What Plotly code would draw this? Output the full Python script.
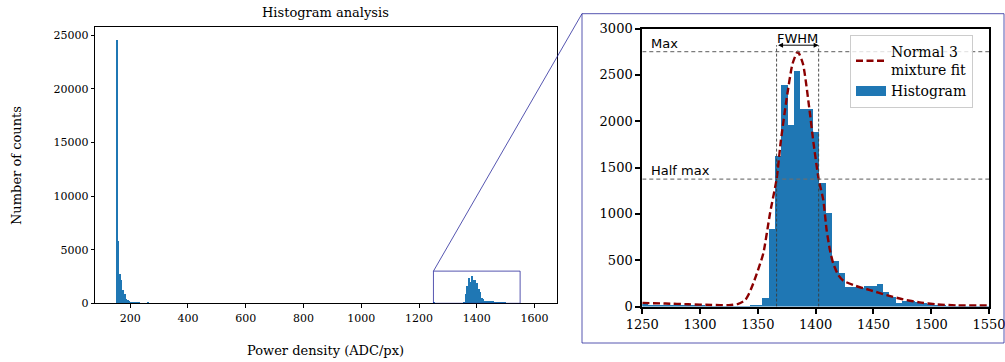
import plotly.graph_objects as go

# ---------------- data ----------------
bin_start = 150.7
bin_width = 5.495

# counts of the low-power cluster, bins 0..20
low_counts = [24520, 5830, 2700, 2170, 1240, 870, 400, 310, 210, 120,
              80, 60, 40, 30, 150, 20, 15, 10, 10, 10, 80]

# counts of the high-power cluster, bins 200..255
high_first_bin = 200
high_counts = [30, 28, 26, 25, 24, 22, 21, 20, 19, 18,
               17, 16, 15, 15, 14, 14, 15, 20, 28, 97,
               840, 1634, 2397, 1965, 2544, 2138, 2138, 1893, 1336, 1020,
               494, 372, 221, 221, 203, 232, 228, 250, 160, 113,
               41, 70, 63, 52, 41, 34, 27, 20, 15, 12,
               10, 8, 6, 5, 4, 3]

# normal 3 mixture fit
fit_x = [1250, 1270, 1290, 1310, 1325, 1333, 1339, 1342, 1346, 1350, 1354.7,
         1360.5, 1366.2, 1370, 1375, 1380, 1384.5, 1389, 1394.5, 1398,
         1402.6, 1406.6, 1409.5, 1412.4, 1415.2, 1419.6, 1424, 1432.6,
         1447, 1461.4, 1475.8, 1490, 1505, 1522, 1550]
fit_y = [40, 33, 25, 18, 16, 30, 70, 130, 250, 390, 574,
         1005, 1375, 1800, 2250, 2620, 2750, 2620, 2140, 1780,
         1375, 1150, 825, 609, 466, 340, 279, 232,
         178, 124, 78, 45, 24, 13, 12]

max_value = 2750
half_max_value = 1375
fwhm_left = 1366.2
fwhm_right = 1402.6

left_xticks = [200, 400, 600, 800, 1000, 1200, 1400, 1600]
left_yticks = [0, 5000, 10000, 15000, 20000, 25000]
right_xticks = [1250, 1300, 1350, 1400, 1450, 1500, 1550]
right_yticks = [0, 500, 1000, 1500, 2000, 2500, 3000]

zoom_x = [1250, 1550]
zoom_y = [0, 3000]

# ---------------- derived bins ----------------
low_centers = [bin_start + (k + 0.5) * bin_width for k in range(len(low_counts))]
high_centers = [bin_start + (high_first_bin + k + 0.5) * bin_width for k in range(len(high_counts))]
all_centers = low_centers + high_centers
all_counts = low_counts + high_counts

SERIF = "DejaVu Serif"
SANS = "DejaVu Sans"
BLUE = "#1f77b4"
BOX = "rgba(30,30,150,0.75)"

W, H = 1005, 362
L_dom_x = [94.9 / W, 556.8 / W]
L_dom_y = [(H - 303.3) / H, (H - 27) / H]
R_dom_x = [642.3 / W, 989 / W]
R_dom_y = [(H - 306.6) / H, (H - 28.5) / H]
L_range_x = [78, 1677]
L_range_y = [0, 25750]

fig = go.Figure()
fig.add_trace(go.Bar(x=all_centers, y=all_counts, width=bin_width,
                     marker=dict(color=BLUE, line=dict(width=0)),
                     xaxis="x", yaxis="y", showlegend=False, name="Histogram"))
fig.add_trace(go.Bar(x=high_centers, y=high_counts, width=bin_width,
                     marker=dict(color=BLUE, line=dict(width=0)),
                     xaxis="x2", yaxis="y2", name="Histogram", showlegend=False))
fig.add_trace(go.Scatter(x=fit_x, y=fit_y, mode="lines",
                         line=dict(color="#8b0000", width=2.4, dash="7px,3.5px", shape="spline", smoothing=0.6),
                         xaxis="x2", yaxis="y2", name="Normal 3<br>mixture fit", legendrank=1))
# legend-only entry drawn as a wide patch, like matplotlib's histogram handle
fig.add_trace(go.Scatter(x=[None], y=[None], mode="lines",
                         line=dict(color=BLUE, width=10),
                         xaxis="x2", yaxis="y2", name="Histogram", legendrank=2))

axis_common = dict(showline=True, mirror=True, linecolor="black", ticks="outside",
                   tickcolor="black", showgrid=False, zeroline=False, automargin=False,
                   ticklabeloverflow="allow")

def labels(vals):
    return [str(v) for v in vals]

fig.update_layout(
    width=W, height=H, margin=dict(l=0, r=0, t=0, b=0),
    paper_bgcolor="white", plot_bgcolor="white", bargap=0,
    xaxis=dict(domain=L_dom_x, range=L_range_x, anchor="y", tickvals=left_xticks, ticktext=labels(left_xticks),
               linewidth=1.3, tickwidth=1.3, ticklen=4,
               tickfont=dict(family=SERIF, size=11, color="black"), **axis_common),
    yaxis=dict(domain=L_dom_y, range=L_range_y, anchor="x", tickvals=left_yticks, ticktext=labels(left_yticks),
               linewidth=1.3, tickwidth=1.3, ticklen=3,
               tickfont=dict(family=SERIF, size=11, color="black"), **axis_common),
    xaxis2=dict(domain=R_dom_x, range=zoom_x, anchor="y2", tickvals=right_xticks, ticktext=labels(right_xticks),
                linewidth=2, tickwidth=1.6, ticklen=5,
                tickfont=dict(family=SERIF, size=13, color="black"), **axis_common),
    yaxis2=dict(domain=R_dom_y, range=zoom_y, anchor="x2", tickvals=right_yticks, ticktext=labels(right_yticks),
                linewidth=2, tickwidth=1.6, ticklen=5,
                tickfont=dict(family=SERIF, size=13, color="black"), **axis_common),
    legend=dict(x=850 / W, y=(H - 35) / H, xanchor="left", yanchor="top",
                bgcolor="rgba(255,255,255,0.8)", bordercolor="#cccccc", borderwidth=1,
                font=dict(family=SERIF, size=14, color="black"), tracegroupgap=0,
                itemwidth=30),
)

# left -> paper mapping for the connector line
def left_to_paper(xv, yv):
    px = L_dom_x[0] + (xv - L_range_x[0]) / (L_range_x[1] - L_range_x[0]) * (L_dom_x[1] - L_dom_x[0])
    py = L_dom_y[0] + (yv - L_range_y[0]) / (L_range_y[1] - L_range_y[0]) * (L_dom_y[1] - L_dom_y[0])
    return px, py

shapes = []
shapes.append(dict(type="rect", xref="x", yref="y", x0=zoom_x[0], x1=zoom_x[1], y0=zoom_y[0], y1=zoom_y[1],
                   line=dict(color=BOX, width=1)))
box_x0, box_x1 = 582 / W, 1004 / W
box_y0, box_y1 = (H - 343) / H, (H - 13.7) / H
shapes.append(dict(type="rect", xref="paper", yref="paper", x0=box_x0, x1=box_x1, y0=box_y0, y1=box_y1,
                   line=dict(color=BOX, width=1)))
cx, cy = left_to_paper(zoom_x[0], zoom_y[1])
shapes.append(dict(type="line", xref="paper", yref="paper", x0=cx, y0=cy, x1=box_x0, y1=box_y1,
                   line=dict(color=BOX, width=1)))
for yv in (max_value, half_max_value):
    shapes.append(dict(type="line", xref="x2", yref="y2", x0=zoom_x[0], x1=zoom_x[1], y0=yv, y1=yv,
                       line=dict(color="rgba(110,110,110,0.9)", width=1.2, dash="4px,3px")))
for xv in (fwhm_left, fwhm_right):
    shapes.append(dict(type="line", xref="x2", yref="y2", x0=xv, x1=xv, y0=0, y1=2820,
                       line=dict(color="rgba(60,60,60,0.9)", width=1, dash="3px,2px")))
fig.update_layout(shapes=shapes)

annotations = [
    dict(text="Histogram analysis", xref="paper", yref="paper", x=(L_dom_x[0] + L_dom_x[1]) / 2,
         y=(H - 13) / H, xanchor="center", yanchor="middle", showarrow=False,
         font=dict(family=SERIF, size=13, color="black")),
    dict(text="Number of counts", xref="paper", yref="paper", x=16 / W, y=(H - 166) / H,
         xanchor="center", yanchor="middle", textangle=-90, showarrow=False,
         font=dict(family=SERIF, size=13, color="black")),
    dict(text="Power density (ADC/px)", xref="paper", yref="paper", x=(L_dom_x[0] + L_dom_x[1]) / 2,
         y=(H - 350) / H, xanchor="center", yanchor="middle", showarrow=False,
         font=dict(family=SERIF, size=13, color="black")),
    dict(text="Max", xref="x2", yref="y2", x=1257, y=max_value, xanchor="left", yanchor="bottom",
         showarrow=False, font=dict(family=SANS, size=13, color="black"), borderpad=0),
    dict(text="Half max", xref="x2", yref="y2", x=1257, y=half_max_value, xanchor="left", yanchor="bottom",
         showarrow=False, font=dict(family=SANS, size=13, color="black"), borderpad=0),
    dict(text="FWHM", xref="x2", yref="y2", x=(fwhm_left + fwhm_right) / 2, y=2800, xanchor="center",
         yanchor="bottom", showarrow=False, font=dict(family=SANS, size=13, color="black"), borderpad=0),
    dict(text="", xref="x2", yref="y2", axref="x2", ayref="y2", x=fwhm_right, y=2820, ax=fwhm_left, ay=2820,
         showarrow=True, arrowhead=2, arrowside="end+start", arrowsize=1, arrowwidth=1, arrowcolor="black"),
]
fig.update_layout(annotations=annotations)

fig.write_html("out.html")
